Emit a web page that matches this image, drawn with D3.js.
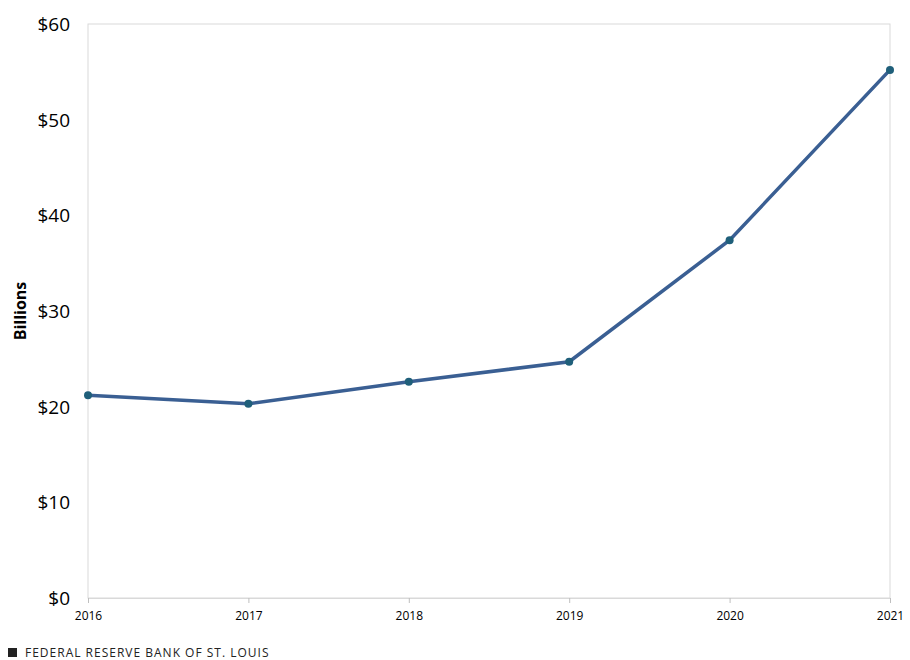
<!DOCTYPE html>
<html lang="en">
<head>
    <script src="https://d3js.org/d3.v7.min.js"></script>
    <style>body{margin:0;background:#fff;}</style>
</head>
<body>
    <div id="chart"></div>
    <script>
        // values
        const years = ["2016", "2017", "2018", "2019", "2020", "2021"];
        const billions = [21.2, 20.3, 22.6, 24.7, 37.4, 55.2];
        const yTicks = [0, 10, 20, 30, 40, 50, 60];

        const W = 910, H = 660;
        const m = { left: 88, right: 20, top: 24, bottom: 62 };

        const svg = d3.select("#chart").append("svg")
            .attr("width", W).attr("height", H)
            .style("font-family", "'Open Sans', sans-serif");

        const x = d3.scalePoint().domain(years).range([m.left, W - m.right]);
        const y = d3.scaleLinear().domain([0, 60]).range([H - m.bottom, m.top]);

        // plot frame
        svg.append("rect")
            .attr("x", m.left).attr("y", m.top)
            .attr("width", W - m.right - m.left).attr("height", H - m.bottom - m.top)
            .attr("fill", "none").attr("stroke", "#d9d9d9");

        // y axis labels
        svg.selectAll(".ylab").data(yTicks).enter().append("text")
            .attr("x", m.left - 18).attr("y", d => y(d) + 7)
            .attr("text-anchor", "end").attr("font-size", 19).attr("fill", "#000")
            .text(d => "$" + d);

        svg.append("text")
            .attr("transform", `translate(26,${(m.top + H - m.bottom) / 2}) rotate(-90)`)
            .attr("text-anchor", "middle").attr("font-size", 16).attr("font-weight", "bold")
            .text("Billions");

        // x axis
        const xAxis = svg.append("g").attr("transform", `translate(0,${H - m.bottom})`)
            .call(d3.axisBottom(x).tickSize(5).tickPadding(8));
        xAxis.select(".domain").attr("stroke", "#d9d9d9");
        xAxis.selectAll(".tick line").attr("stroke", "#bfbfbf");
        xAxis.selectAll("text").attr("font-size", 12).attr("fill", "#000")
            .style("font-family", "'Open Sans', sans-serif");

        // line and markers
        const line = d3.line().x((d, i) => x(years[i])).y(d => y(d));
        svg.append("path").datum(billions)
            .attr("d", line).attr("fill", "none")
            .attr("stroke", "#3a5f93").attr("stroke-width", 3.5);
        svg.selectAll(".dot").data(billions).enter().append("circle")
            .attr("cx", (d, i) => x(years[i])).attr("cy", d => y(d))
            .attr("r", 4).attr("fill", "#1f5f7a");

        // footer
        svg.append("rect").attr("x", 8).attr("y", 648).attr("width", 9).attr("height", 9).attr("fill", "#222");
        svg.append("text").attr("x", 25).attr("y", 657)
            .attr("font-size", 12).attr("letter-spacing", 1).attr("fill", "#222")
            .text("FEDERAL RESERVE BANK OF ST. LOUIS");
    </script>
</body>
</html>
